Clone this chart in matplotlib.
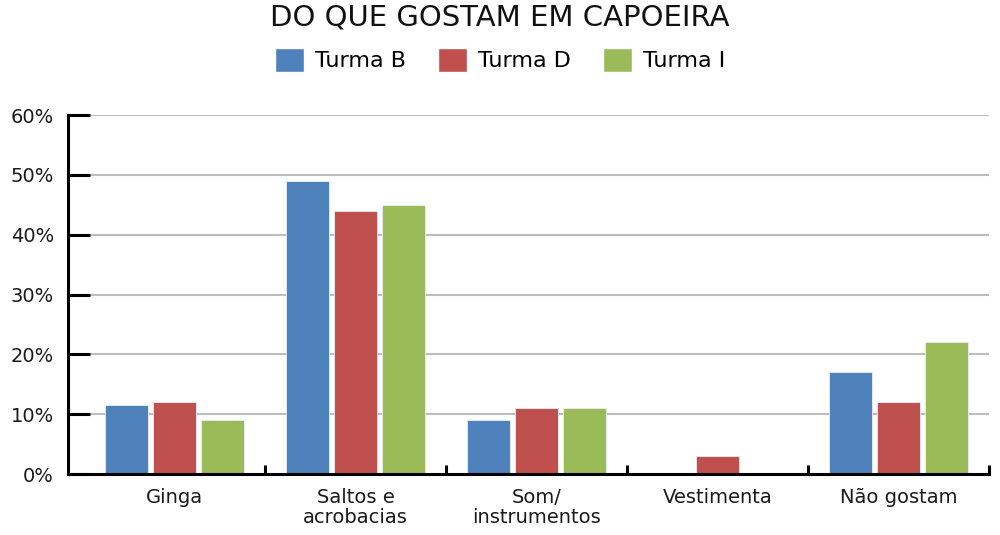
import numpy as np
import matplotlib.pyplot as plt
from matplotlib.patches import Patch

# data
categorias = ['Ginga', 'Saltos e\nacrobacias', 'Som/\ninstrumentos', 'Vestimenta', 'Não gostam']
turma_b = [11.5, 49, 9, 0, 17]
turma_d = [12, 44, 11, 3, 12]
turma_i = [9, 45, 11, 0, 22]
series = ['Turma B', 'Turma D', 'Turma I']
cores = ['#4F81BD', '#C0504D', '#9BBB59']
yticks = [0, 10, 20, 30, 40, 50, 60]

plt.rcParams['font.family'] = ['DejaVu Sans']

fig = plt.figure(figsize=(10, 5.35), dpi=100)
ax = fig.add_axes([0.068, 0.114, 0.921, 0.671])

x = np.arange(len(categorias))
passo = 0.265
largura = 0.24
for k, (vals, cor) in enumerate(zip([turma_b, turma_d, turma_i], cores)):
    ax.bar(x + (k - 1) * passo, vals, largura, color=cor,
           edgecolor='#E8EEF8', linewidth=0.6, zorder=3)

# grid
for v in yticks[1:]:
    ax.axhline(v, color='#BDBDBD', linewidth=1.5, zorder=1)

ax.set_xlim(-0.588, 4.5)
ax.set_ylim(0, 60)
ax.set_yticks(yticks)
ax.set_yticklabels([f'{v}%' for v in yticks], fontsize=14, color='#1a1a1a')
ax.tick_params(axis='y', direction='in', length=16, width=2.2, pad=10)

ax.set_xticks(x)
ax.set_xticklabels(categorias, fontsize=14, color='#1a1a1a', linespacing=1.1)
ax.tick_params(axis='x', length=0, pad=10)
# boundary ticks between categories
ax.set_xticks(np.arange(0.5, 5, 1), minor=True)
ax.tick_params(axis='x', which='minor', direction='in', length=6.5, width=2.2)

for s in ['top', 'right']:
    ax.spines[s].set_visible(False)
ax.spines['left'].set_linewidth(2.2)
ax.spines['bottom'].set_linewidth(2.2)
ax.spines['bottom'].set_zorder(4)

fig.text(0.5, 0.968, 'DO QUE GOSTAM EM CAPOEIRA', ha='center', va='center',
         fontsize=21, color='#111111')

handles = [Patch(facecolor=c, edgecolor='white', label=s) for s, c in zip(series, cores)]
fig.legend(handles=handles, loc='center', bbox_to_anchor=(0.5, 0.888), ncol=3,
           frameon=False, fontsize=16, handlelength=1.3, handleheight=1.3,
           handletextpad=0.5, columnspacing=1.45)

fig.savefig('out.png', dpi=100)
